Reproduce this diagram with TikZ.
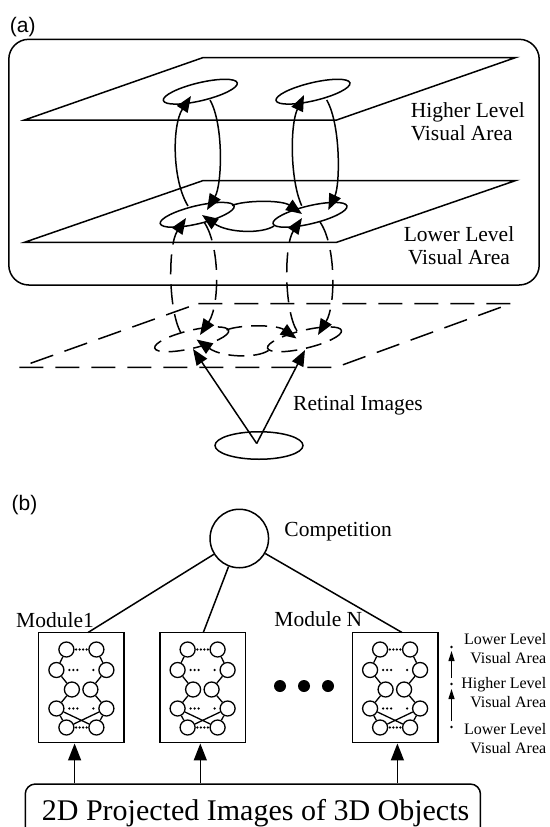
\documentclass[tikz,border=0pt]{standalone}
\usepackage{fontspec}
\setmainfont{Liberation Serif}
\newfontfamily\labfont{Liberation Sans}
\usetikzlibrary{arrows.meta,shapes.geometric,calc}
\tikzset{
  arr/.style={-{Triangle[length=16pt,width=12.5pt]}},
  arrb/.style={-{Triangle[length=17pt,width=13pt]}},
  legarr/.style={line width=1.1pt,-{Triangle[length=10pt,width=6pt]}},
  dsh/.style={dash pattern=on 20pt off 10pt},
  pdsh/.style={dash pattern=on 24pt off 12pt},
  edsh/.style={dash pattern=on 16pt off 9pt},
  lab/.style={font=\fontsize{21.5}{23}\selectfont, inner sep=0pt},
  leg/.style={font=\fontsize{16}{19}\selectfont, inner sep=0pt, align=right},
  panel/.style={font=\labfont\fontsize{21}{24}\selectfont, inner sep=0pt},
  nc/.style={circle, draw, minimum size=15pt, inner sep=0pt, line width=1.3pt},
  netmod/.pic={
    \foreach \n/\x/\y in {a1/-15/17, a2/15/17, b1/-25/37.5, b2/25/37.5,
        c1/-9.5/57, c2/9/57, d1/-25/76, d2/25/76, e1/-15/95, e2/15/95}
      \node[nc] (-\n) at (\x,\y) {};
    \draw[line width=1.3pt] (-a1)--(-b1) (-a2)--(-b2) (-b1)--(-c1) (-b2)--(-c2)
      (-c1)--(-d1) (-c2)--(-d2) (-d1)--(-e1) (-d2)--(-e2) (-d1)--(-e2) (-d2)--(-e1);
    \foreach \x in {-5.25,-1.75,1.75,5.25} {
      \fill (\x,17) circle (1.3); \fill (\x,95) circle (1.3); }
    \foreach \x in {-12,-8,-4} {
      \fill (\x,37.5) circle (1.3); \fill (\x,76) circle (1.3); }
    \fill (12,37.5) circle (1.3); \fill (12,76) circle (1.3);
  }
}
\begin{document}
\begin{tikzpicture}[x=1pt,y=-1pt,line width=1.5pt]
\useasboundingbox (0,0) rectangle (549,827);

% ---------------- panel (a)
\node[panel] (la) at (22.8,26.7) {(a)};
\draw[rounded corners=20pt] (8.8,39.3) rectangle (539.2,285);
% planes
\draw (203.3,57.5) -- (515.8,57.5) -- (336.7,120) -- (24.5,120) -- cycle;
\draw (203.3,180.5) -- (515.8,180.5) -- (336.7,242.3) -- (24.5,242.3) -- cycle;
\draw[pdsh] (198.3,303.5) -- (511.2,303.5) -- (336,367.3) -- (19.3,367.3) -- cycle;
% ellipses
\draw[rotate around={13.4:(200.3,91.7)}] (200.3,91.7) ellipse [x radius=38, y radius=9];
\draw[rotate around={13.4:(313,91.7)}] (313,91.7) ellipse [x radius=38, y radius=9];
\draw[rotate around={13.4:(197.2,214.8)}] (197.2,214.8) ellipse [x radius=38, y radius=9];
\draw[rotate around={13.4:(310,214.8)}] (310,214.8) ellipse [x radius=38, y radius=9];
\draw[edsh,rotate around={13.4:(191.7,339.3)}] (191.7,339.3) ellipse [x radius=38, y radius=9];
\draw[edsh,rotate around={13.4:(304.5,339.3)}] (304.5,339.3) ellipse [x radius=38, y radius=9];
% lateral connections
\draw[arr] (232,205.5) .. controls (245,200) and (282,200) .. (302,214);
\draw[arr] (274,226) .. controls (262,234) and (228,233) .. (202,215);
\begin{scope}[shift={(-5.5,124.5)}]
\draw[arr,edsh] (232,205.5) .. controls (245,200) and (282,200) .. (302,214);
\draw[arr,edsh] (274,226) .. controls (262,234) and (228,233) .. (202,215);
\end{scope}
% vertical connections (solid)
\draw[arr] (188,206) .. controls (172,180) and (172,125) .. (191,96);
\draw[arr] (210,100) .. controls (224,125) and (222,185) .. (207,210);
\draw[arr] (301.7,205.7) .. controls (290,180) and (290,125) .. (304,95);
\draw[arr] (326.7,100) .. controls (341,125) and (340,185) .. (328.3,210);
% vertical connections (dashed)
\draw[arr,dsh] (181,333) .. controls (168,310) and (168,245) .. (186,218);
\draw[arr,dsh] (204,222) .. controls (220,245) and (220,305) .. (200,335);
\draw[arr,dsh] (297,331) .. controls (284,310) and (284,245) .. (302,218);
\draw[arr,dsh] (320,222) .. controls (336,245) and (336,305) .. (318,335);
% retina
\node[draw, ellipse, minimum width=88pt, minimum height=27.5pt, inner sep=0pt] (eye) at (259,445.5) {};
\coordinate (ev) at (256.7,443.5);
\coordinate (r1) at (193,349);
\coordinate (r2) at (305,350);
\draw[arr] (ev) -- (r1);
\draw[arr] (ev) -- (r2);
% labels
\node[lab, align=left, anchor=west] (hl) at (410,121.7) {Higher Level\\Visual Area};
\node[lab, align=center] (ll) at (459,245.4) {Lower Level\\Visual Area};
\node[lab] (ri) at (358,405) {Retinal Images};

% ---------------- panel (b)
\node[panel] (lb) at (24.5,505) {(b)};
\node[circle, draw, minimum size=58.5pt, inner sep=0pt] (comp) at (239.3,538.5) {};
\node[lab] (ct) at (338.2,532) {Competition};
\node[draw, minimum width=85.5pt, minimum height=110.2pt, inner sep=0pt] (m1) at (81.4,687.6) {};
\node[draw, minimum width=85.5pt, minimum height=110.2pt, inner sep=0pt] (m2) at (202.6,687.6) {};
\node[draw, minimum width=85.5pt, minimum height=110.2pt, inner sep=0pt] (mn) at (395.1,687.6) {};
\pic (n1) at (81.4,632.5) {netmod};
\pic (n2) at (202.6,632.5) {netmod};
\pic (nn) at (395.1,632.5) {netmod};
\coordinate (t1) at (88,632.5);
\coordinate (t2) at (203.3,632.5);
\coordinate (t3) at (402,632.5);
\draw (comp) -- (t1);
\draw (comp) -- (t2);
\draw (comp) -- (t3);
\node[lab] (mt1) at (55,620) {Module1};
\node[lab] (mtn) at (318.3,619) {Module N};
\fill (280,686) circle (6);
\fill (304,686) circle (6);
\fill (328,686) circle (6);
% legend
\node[leg, anchor=east] (g1) at (547,649) {Lower Level\\Visual Area};
\node[leg, anchor=east] (g2) at (547,693) {Higher Level\\Visual Area};
\node[leg, anchor=east] (g3) at (547,739) {Lower Level\\Visual Area};
\fill (451.5,647) circle (1.4);
\draw[legarr] (451.5,678) -- (451.5,651);
\fill (451.5,684) circle (1.4);
\draw[legarr] (451.5,721) -- (451.5,689);
\fill (451.5,727) circle (1.4);
% input box
\node[draw, rounded corners=10pt, minimum width=455.2pt, minimum height=90pt, anchor=north west, inner sep=0pt] (proj) at (24.5,783.3) {};
\node[font=\fontsize{30}{36}\selectfont, anchor=base, inner sep=0pt] (projtxt) at (255.6,820) {2D Projected Images of 3D Objects};
\coordinate (s1) at (74.6,783.3);
\coordinate (s2) at (200.3,783.3);
\coordinate (s3) at (397.4,783.3);
\draw[arrb] (s1 |- proj.north) -- (s1 |- m1.south);
\draw[arrb] (s2 |- proj.north) -- (s2 |- m2.south);
\draw[arrb] (s3 |- proj.north) -- (s3 |- mn.south);
\end{tikzpicture}
\end{document}
